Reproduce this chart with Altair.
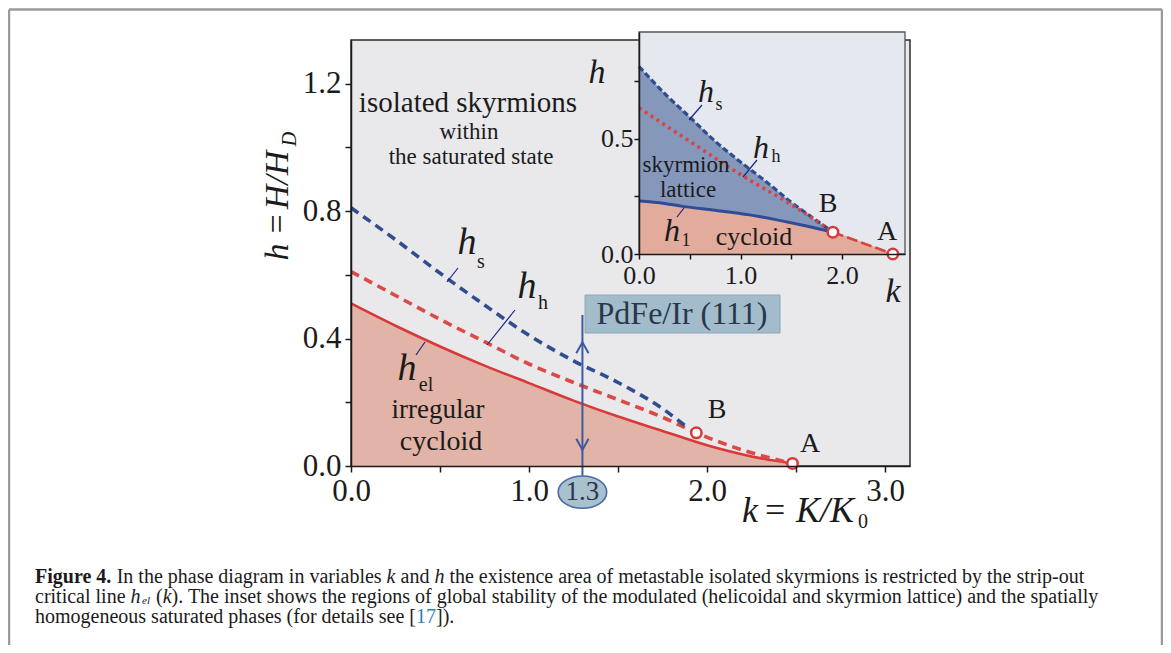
import altair as alt
import pandas as pd

SERIF = "Liberation Serif"

# ---------------- data ----------------
# main diagram (k = K/K0, h = H/HD)
k_hel = [0, 0.25, 0.5, 0.75, 1.0, 1.25, 1.5, 1.75, 2.0, 2.25, 2.48]
h_hel = [0.51, 0.44, 0.375, 0.315, 0.26, 0.205, 0.155, 0.11, 0.065, 0.03, 0.008]
k_hh = [0, 0.25, 0.5, 0.75, 1.0, 1.25, 1.5, 1.75, 1.94, 2.2, 2.48]
h_hh = [0.61, 0.535, 0.46, 0.39, 0.32, 0.262, 0.208, 0.153, 0.104, 0.05, 0.008]
k_hs = [0, 0.25, 0.5, 0.75, 1.0, 1.25, 1.5, 1.75, 1.88]
h_hs = [0.81, 0.71, 0.605, 0.505, 0.41, 0.33, 0.262, 0.18, 0.125]
pt_names = ["B", "A"]
pt_k = [1.94, 2.48]
pt_h = [0.104, 0.008]
k_pdfe = 1.3
arrow_top, arrow_bottom = 0.474, -0.03
arrow_heads_up = [0.373]
arrow_heads_down = [0.066]
label_13_h = -0.082

# inset diagram
ki_hs = [0, 0.27, 0.5, 0.75, 1.0, 1.25, 1.5, 1.75, 1.91]
hi_hs = [0.815, 0.69, 0.595, 0.49, 0.4, 0.315, 0.225, 0.145, 0.095]
ki_hh = [0, 0.5, 1.0, 1.5, 1.91]
hi_hh = [0.635, 0.49, 0.345, 0.215, 0.095]
ki_h1 = [0, 0.25, 0.43, 0.75, 1.09, 1.59, 1.91]
hi_h1 = [0.23, 0.22, 0.207, 0.19, 0.17, 0.127, 0.095]
ki_ba = [1.91, 2.5]
hi_ba = [0.095, 0.0]
pti_k = [1.91, 2.5]
pti_h = [0.095, 0.0]

# axes
main_x_domain = [0, 3.14]
main_y_domain = [0, 1.3365]
main_x_ticks = [0, 0.5, 1.0, 1.5, 2.0, 2.5, 3.0]
main_y_ticks = [0, 0.2, 0.4, 0.6, 0.8, 1.0, 1.2]
in_x_domain = [0, 2.62]
in_y_domain = [0, 0.965]
in_x_ticks = [0, 0.5, 1.0, 1.5, 2.0]
in_y_ticks = [0, 0.25, 0.5, 0.75]

# ---------------- layout helpers ----------------
OX, OY = 351, 40          # page position of the main plot origin
W, H = 559, 426
PAD = {"left": 343, "top": 32, "right": 253, "bottom": 179}
ONE = pd.DataFrame({"one": [0]})
INK = "#1b1b1b"
RED = "#d63a3a"
BLUE = "#2f4d8f"
NAVY = "#1d2585"


def ptext(txt, px, py, size, style="normal", weight="normal", color=INK,
          align="center", angle=0, baseline="middle"):
    return alt.Chart(ONE).mark_text(
        text=txt, font=SERIF, fontSize=size, fontStyle=style, fontWeight=weight,
        color=color, align=align, baseline=baseline, angle=angle
    ).encode(x=alt.value(px - OX), y=alt.value(py - OY))


def pline(x1, y1, x2, y2, color=NAVY, width=1.2):
    return alt.Chart(ONE).mark_rule(color=color, strokeWidth=width).encode(
        x=alt.value(x1 - OX), y=alt.value(y1 - OY),
        x2=alt.value(x2 - OX), y2=alt.value(y2 - OY))


common_axis = dict(grid=False, title=None, labelFont=SERIF, labelColor=INK,
                   domainColor=INK, tickColor=INK, domainWidth=1.5, tickWidth=1.5,
                   labelFlush=False, labelOverlap=False, zindex=1)

XS = alt.Scale(domain=main_x_domain, nice=False, zero=False)
YS = alt.Scale(domain=main_y_domain, nice=False, zero=False)
AX_X = alt.Axis(orient="bottom", values=main_x_ticks, tickSize=6, labelPadding=4, labelFontSize=31,
                labelExpr="datum.value % 1 == 0 ? format(datum.value, '.1f') : ''",
                **common_axis)
AX_Y = alt.Axis(orient="left", values=main_y_ticks, tickSize=6, labelPadding=4, labelFontSize=31,
                labelExpr="round(datum.value*10) % 4 == 0 ? format(datum.value, '.1f') : ''",
                **common_axis)

XI = alt.Scale(domain=in_x_domain, range=[288, 554], nice=False, zero=False)
YI = alt.Scale(domain=in_y_domain, range=[214, -8], nice=False, zero=False)
AX_XI = alt.Axis(orient="bottom", offset=-212, values=in_x_ticks, tickSize=5,
                 labelPadding=3, labelFontSize=26,
                 labelExpr="datum.value % 1 == 0 ? format(datum.value, '.1f') : ''",
                 **common_axis)
AX_YI = alt.Axis(orient="left", offset=-288, values=in_y_ticks, tickSize=5,
                 labelPadding=1, labelFontSize=26,
                 labelExpr="round(datum.value*100) % 50 == 0 ? format(datum.value, '.1f') : ''",
                 **common_axis)

df_hel = pd.DataFrame({"k": k_hel, "h": h_hel})
df_hh = pd.DataFrame({"k": k_hh, "h": h_hh})
df_hs = pd.DataFrame({"k": k_hs, "h": h_hs})
df_pts = pd.DataFrame({"name": pt_names, "k": pt_k, "h": pt_h})


def mx(field="k"):
    return alt.X(f"{field}:Q", scale=XS, axis=None)


def my(field="h"):
    return alt.Y(f"{field}:Q", scale=YS, axis=None)


area_main = alt.Chart(df_hel).mark_area(color="#e2b3a7", opacity=1, interpolate="monotone").encode(
    x=alt.X("k:Q", scale=XS, axis=AX_X), y=alt.Y("h:Q", scale=YS, axis=AX_Y))
line_hel = alt.Chart(df_hel).mark_line(color=RED, strokeWidth=2.6, interpolate="monotone").encode(x=mx(), y=my())
line_hh = alt.Chart(df_hh).mark_line(color="#dc4a45", strokeWidth=3.6, strokeDash=[9, 6],
                                     interpolate="monotone").encode(x=mx(), y=my())
line_hs = alt.Chart(df_hs).mark_line(color=BLUE, strokeWidth=3.6, strokeDash=[9, 6],
                                     interpolate="monotone").encode(x=mx(), y=my())
pts_main = alt.Chart(df_pts).mark_point(shape="circle", filled=True, fill="white", stroke=RED,
                                        strokeWidth=2.5, size=110, opacity=1).encode(x=mx(), y=my())

df_arrow = pd.DataFrame({"k": [k_pdfe], "h": [arrow_top], "h2": [arrow_bottom]})
arrow_rule = alt.Chart(df_arrow).mark_rule(color="#3d5a9e", strokeWidth=2).encode(
    x=mx(), y=my(), y2="h2:Q")
arrow_up = alt.Chart(pd.DataFrame({"k": [k_pdfe] * len(arrow_heads_up), "h": arrow_heads_up})).mark_point(
    shape="M -1 1 L 0 -0.8 L 1 1", filled=False, stroke="#3d5a9e", strokeWidth=2, size=150, opacity=1
).encode(x=mx(), y=my())
arrow_down = alt.Chart(pd.DataFrame({"k": [k_pdfe] * len(arrow_heads_down), "h": arrow_heads_down})).mark_point(
    shape="M -1 -1 L 0 0.8 L 1 -1", filled=False, stroke="#3d5a9e", strokeWidth=2, size=150, opacity=1
).encode(x=mx(), y=my())
df_13 = pd.DataFrame({"k": [k_pdfe], "h": [label_13_h], "t": ["1.3"]})
ellipse = alt.Chart(df_13).mark_point(
    shape="M -1 0 A 1 0.667 0 1 0 1 0 A 1 0.667 0 1 0 -1 0 Z", filled=True, fill="#a9c0cd",
    stroke="#4a69a8", strokeWidth=1.6, size=2350, opacity=1).encode(x=mx(), y=my())
ellipse_txt = alt.Chart(df_13).mark_text(font=SERIF, fontSize=27, color="#2b3650").encode(
    x=mx(), y=my(), text="t:N")

box = alt.Chart(ONE).mark_rect(fill="#a3bccb", stroke="#8ba6b6", strokeWidth=1).encode(
    x=alt.value(585 - OX), x2=alt.value(780 - OX), y=alt.value(295 - OY), y2=alt.value(333 - OY))

main_layers = [
    area_main, line_hel, line_hh, line_hs, arrow_rule, arrow_up, arrow_down, ellipse, ellipse_txt,
    pts_main, box,
    ptext("PdFe/Ir (111)", 682, 314, 32, color="#28374a"),
    # region labels
    ptext("isolated skyrmions", 468, 103, 29),
    ptext("within", 469, 132, 23),
    ptext("the saturated state", 471, 157, 23),
    ptext("irregular", 438, 410, 27),
    ptext("cycloid", 441, 442, 28),
    ptext("B", 717, 410, 28),
    ptext("A", 810, 444, 28),
    # curve labels
    ptext("h", 467, 243, 38, style="italic"),
    ptext("s", 481, 262, 20),
    pline(458, 268, 447, 282),
    ptext("h", 527, 287, 38, style="italic"),
    ptext("h", 543, 303, 20),
    pline(515, 310, 487, 345),
    ptext("h", 407, 369, 38, style="italic"),
    ptext("el", 426, 385, 20),
    pline(425, 342, 416, 355),
    # axis titles
    ptext("h", 278, 252, 34, style="italic", angle=270),
    ptext("=", 278, 224, 34, angle=270),
    ptext("H/H", 278, 180, 34, style="italic", angle=270),
    ptext("D", 290, 139, 20, style="italic", angle=270),
    ptext("k", 742, 511, 36, style="italic", align="left"),
    ptext("=", 765, 511, 36, align="left"),
    ptext("K/K", 796, 511, 36, style="italic", align="left"),
    ptext("0", 858, 522, 20, align="left"),
    # caption
    ptext("Figure 4.", 35, 577, 20, weight="bold", align="left"),
    ptext("In the phase diagram in variables", 116.7, 577, 20, align="left"),
    ptext("k", 386.6, 577, 20, style="italic", align="left"),
    ptext("and", 400.5, 577, 20, align="left"),
    ptext("h", 434.4, 577, 20, style="italic", align="left"),
    ptext("the existence area of metastable isolated skyrmions is restricted by the strip-out",
          449.4, 577, 20, align="left"),
    ptext("critical line", 35, 597, 20, align="left"),
    ptext("h", 130.5, 597, 20, style="italic", align="left"),
    ptext("el", 142, 600.5, 11, style="italic", align="left"),
    ptext("(", 156, 597, 20, align="left"),
    ptext("k", 162.7, 597, 20, style="italic", align="left"),
    ptext("). The inset shows the regions of global stability of the modulated (helicoidal and "
          "skyrmion lattice) and the spatially", 171.6, 597, 20, align="left"),
    ptext("homogeneous saturated phases (for details see [", 35, 617, 20, align="left"),
    ptext("17", 416, 617, 20, color="#2a7fc1", align="left"),
    ptext("]).", 436, 617, 20, align="left"),
    # page frame
    pline(9, 9.5, 1162, 9.5, color="#9a9a9a", width=2.5),
    pline(9, 9.5, 9, 660, color="#9a9a9a", width=2.5),
    pline(1162, 9.5, 1162, 660, color="#9a9a9a", width=2.5),
]

# ---------------- inset ----------------
def ix(field="k"):
    return alt.X(f"{field}:Q", scale=XI, axis=None)


def iy(field="h"):
    return alt.Y(f"{field}:Q", scale=YI, axis=None)


df_frame = pd.DataFrame({"x0": [in_x_domain[0]], "x1": [in_x_domain[1]],
                         "y0": [in_y_domain[0]], "y1": [in_y_domain[1]]})
rect_in = alt.Chart(df_frame).mark_rect(fill="#e5e8ef", stroke="#555555", strokeWidth=1.3).encode(
    x=alt.X("x0:Q", scale=XI, axis=AX_XI), x2="x1:Q",
    y=alt.Y("y0:Q", scale=YI, axis=AX_YI), y2="y1:Q")

dfi_hs = pd.DataFrame({"k": ki_hs, "h": hi_hs})
dfi_hh = pd.DataFrame({"k": ki_hh, "h": hi_hh})
dfi_h1 = pd.DataFrame({"k": ki_h1, "h": hi_h1})
dfi_ba = pd.DataFrame({"k": ki_ba, "h": hi_ba})
dfi_cyc = pd.concat([dfi_h1, dfi_ba.iloc[1:]], ignore_index=True)
dfi_pts = pd.DataFrame({"k": pti_k, "h": pti_h})

area_sk = alt.Chart(dfi_hs).mark_area(color="#8598bb", opacity=1, interpolate="monotone").encode(x=ix(), y=iy())
area_cy = alt.Chart(dfi_cyc).mark_area(color="#e2ab9c", opacity=1, interpolate="monotone").encode(x=ix(), y=iy())
li_hs = alt.Chart(dfi_hs).mark_line(color=BLUE, strokeWidth=3.2, strokeDash=[6, 3],
                                    interpolate="monotone").encode(x=ix(), y=iy())
li_hh = alt.Chart(dfi_hh).mark_line(color="#d94540", strokeWidth=3.6, strokeDash=[3, 4],
                                    interpolate="monotone").encode(x=ix(), y=iy())
li_h1 = alt.Chart(dfi_h1).mark_line(color="#2f4d95", strokeWidth=3, interpolate="monotone").encode(x=ix(), y=iy())
li_ba = alt.Chart(dfi_ba).mark_line(color="#d94540", strokeWidth=2.6, strokeDash=[11, 4]).encode(x=ix(), y=iy())
pts_in = alt.Chart(dfi_pts).mark_point(shape="circle", filled=True, fill="white", stroke=RED,
                                       strokeWidth=2.5, size=110, opacity=1).encode(x=ix(), y=iy())

inset_layers = [
    rect_in, area_sk, area_cy, li_hs, li_hh, li_h1, li_ba, pts_in,
    ptext("skyrmion", 686, 165, 23),
    ptext("lattice", 688, 190, 23),
    ptext("cycloid", 754, 237, 26),
    ptext("B", 828, 204, 28),
    ptext("A", 887, 232, 28),
    ptext("h", 706, 92, 32, style="italic"),
    ptext("s", 719, 105, 18),
    pline(702, 105, 689, 120),
    ptext("h", 761, 148, 32, style="italic"),
    ptext("h", 776, 157, 18),
    pline(757, 160, 743, 177),
    ptext("h", 672, 231, 32, style="italic"),
    ptext("1", 686, 241, 18),
    pline(677, 217, 684, 208),
    ptext("h", 597, 73, 34, style="italic"),
    ptext("k", 893, 292, 34, style="italic"),
]

chart = alt.layer(*main_layers, *inset_layers).resolve_scale(
    x="independent", y="independent"
).properties(
    width=W, height=H, padding=PAD, autosize=alt.AutoSizeParams(type="none"),
    background="white"
).configure_view(fill="#e9e9ec", stroke="#2a2a2a", strokeWidth=1.5)

chart.save("out.html", embed_options={"renderer": "svg", "actions": False})
